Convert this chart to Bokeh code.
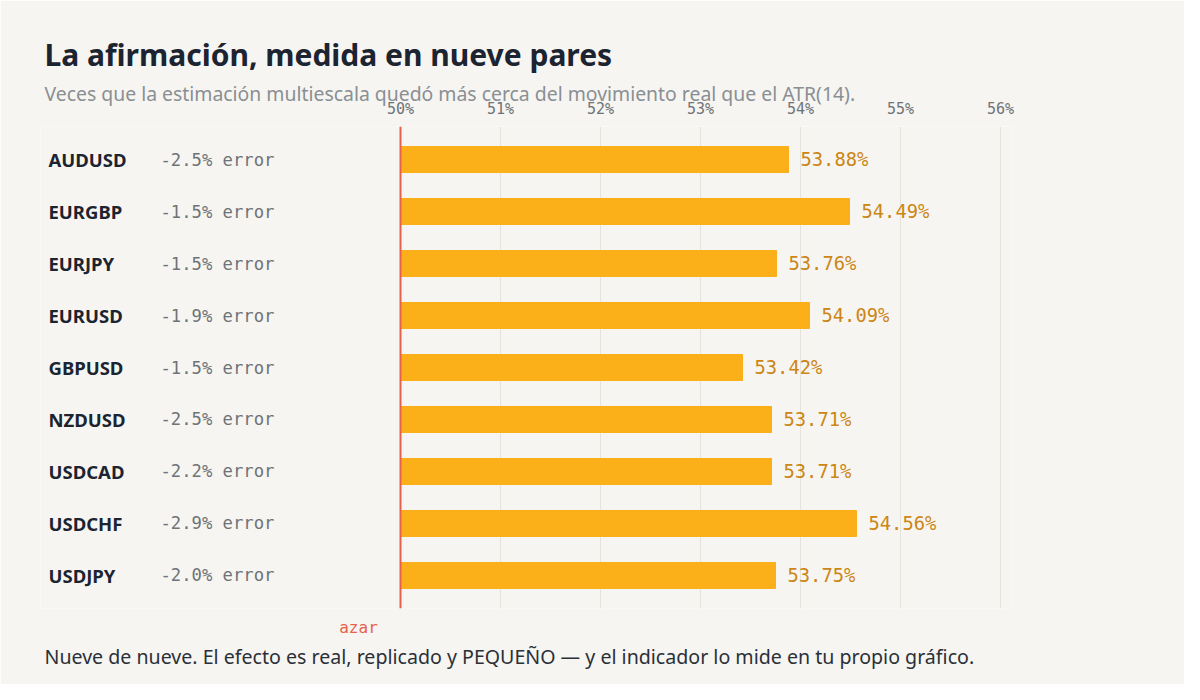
from bokeh.plotting import figure
from bokeh.models import FactorRange, Range1d, Span, FixedTicker, ColumnDataSource
from bokeh.core.properties import value
from bokeh.embed import file_html
from bokeh.resources import INLINE

# ---- data ----
pairs = ["AUDUSD", "EURGBP", "EURJPY", "EURUSD", "GBPUSD", "NZDUSD", "USDCAD", "USDCHF", "USDJPY"]
win_rate = [53.88, 54.49, 53.76, 54.09, 53.42, 53.71, 53.71, 54.56, 53.75]
error_change = [-2.5, -1.5, -1.5, -1.9, -1.5, -2.5, -2.2, -2.9, -2.0]
tick_values = [50, 51, 52, 53, 54, 55, 56]
baseline = 50

title_text = "La afirmación, medida en nueve pares"
subtitle_text = "Veces que la estimación multiescala quedó más cerca del movimiento real que el ATR(14)."
footer_text = "Nueve de nueve. El efecto es real, replicado y PEQUEÑO — y el indicador lo mide en tu propio gráfico."
baseline_label = "azar"

# ---- style ----
BG = "#F6F5F1"
BAR = "#FBB01A"
VAL = "#CC8614"
RED = "#E8604C"
DARK = "#1B2430"
GREY = "#6E7378"
MONO = "DejaVu Sans Mono"
SANS = "Noto Sans"

X_START = 46.4
X_END = 56.12

src = ColumnDataSource(dict(
    pair=pairs,
    rate=win_rate,
    base=[baseline] * len(pairs),
    rate_label=[f"{v:.2f}%" for v in win_rate],
    err_label=[f"{e:.1f}% error" for e in error_change],
    left=[X_START] * len(pairs),
))

p = figure(
    width=1184, height=684,
    x_range=Range1d(X_START, X_END),
    y_range=FactorRange(factors=list(reversed(pairs)), range_padding=0.135, range_padding_units="absolute"),
    x_axis_location="above",
    output_backend="svg", toolbar_location=None,
    min_border_left=40, min_border_right=172, min_border_top=126, min_border_bottom=76,
)
p.background_fill_color = BG
p.border_fill_color = BG
p.outline_line_color = None

# grid
p.ygrid.grid_line_color = None
p.xgrid.ticker = FixedTicker(ticks=tick_values)
p.xgrid.grid_line_color = "#E6E3DD"
p.xgrid.grid_line_width = 1

# axes
p.yaxis.visible = False
xa = p.xaxis[0]
xa.ticker = FixedTicker(ticks=tick_values)
xa.major_label_overrides = {t: f"{t}%" for t in tick_values}
xa.axis_line_color = None
xa.major_tick_line_color = None
xa.minor_tick_line_color = None
xa.major_tick_out = 0
xa.major_tick_in = 0
xa.major_label_text_font = MONO
xa.major_label_text_font_size = "15px"
xa.major_label_text_color = GREY
xa.major_label_standoff = 9

# bars
p.hbar(y="pair", left="base", right="rate", height=0.5, source=src,
       fill_color=BAR, line_color=BAR)

# baseline line
p.add_layout(Span(location=baseline, dimension="height", line_color=RED, line_width=2))

# value labels
p.text(x="rate", y="pair", text="rate_label", source=src, x_offset=12,
       text_align="left", text_baseline="middle",
       text_font=value(MONO), text_font_size="18.8px", text_color=VAL)

# pair names
p.text(x="left", y="pair", text="pair", source=src, x_offset=8,
       text_align="left", text_baseline="middle",
       text_font=value(SANS), text_font_style="bold", text_font_size="18.5px", text_color=DARK)

# error labels
p.text(x="left", y="pair", text="err_label", source=src, x_offset=120,
       text_align="left", text_baseline="middle",
       text_font=value(MONO), text_font_size="17.2px", text_color=GREY)

# title / subtitle (anchored to the top row)
top = pairs[0]
bottom = pairs[-1]
p.text(x=[X_START], y=[top], text=[title_text], x_offset=4, y_offset=-105,
       text_align="left", text_baseline="middle",
       text_font=value(SANS), text_font_style="bold", text_font_size="30px",
       text_color=DARK, level="overlay")
p.text(x=[X_START], y=[top], text=[subtitle_text], x_offset=4, y_offset=-66,
       text_align="left", text_baseline="middle",
       text_font=value(SANS), text_font_size="19.4px",
       text_color="#8A8F94", level="overlay")

# baseline annotation and footer (anchored to the bottom row)
p.text(x=[baseline], y=[bottom], text=[baseline_label], x_offset=-42, y_offset=52,
       text_align="center", text_baseline="middle",
       text_font=value(MONO), text_font_size="16px", text_color=RED, level="overlay")
p.text(x=[X_START], y=[bottom], text=[footer_text], x_offset=4, y_offset=81,
       text_align="left", text_baseline="middle",
       text_font=value(SANS), text_font_size="19.6px", text_color="#2B3038", level="overlay")

open("out.html", "w").write(file_html(p, INLINE))
